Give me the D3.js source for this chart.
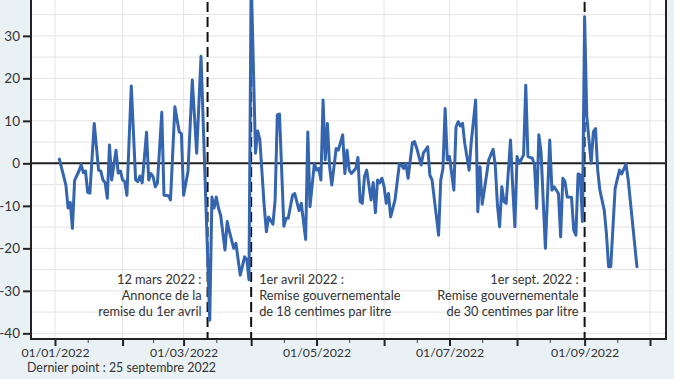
<!DOCTYPE html>
<html><head><meta charset="utf-8">
<script src="https://cdn.jsdelivr.net/npm/d3@7"></script>
<style>
html,body{margin:0;padding:0;background:#e9f1f5;}
svg{display:block;}
text{font-family:Lato,"Noto Sans",sans-serif;}
</style></head><body>
<svg id="c" width="674" height="379"></svg>
<script>
const dates = [
"2022-01-03","2022-01-06","2022-01-07","2022-01-08","2022-01-09","2022-01-10","2022-01-12","2022-01-13","2022-01-14","2022-01-15",
"2022-01-16","2022-01-17","2022-01-19","2022-01-21","2022-01-22","2022-01-23","2022-01-24","2022-01-25","2022-01-26","2022-01-27",
"2022-01-29","2022-01-30","2022-01-31","2022-02-01","2022-02-02","2022-02-03","2022-02-05","2022-02-07","2022-02-08","2022-02-09",
"2022-02-10","2022-02-12","2022-02-13","2022-02-14","2022-02-15","2022-02-16","2022-02-17","2022-02-19","2022-02-20","2022-02-22",
"2022-02-23","2022-02-25","2022-02-27","2022-02-28","2022-03-01","2022-03-03","2022-03-05","2022-03-07","2022-03-09","2022-03-13",
"2022-03-14","2022-03-15","2022-03-16","2022-03-17","2022-03-18","2022-03-20","2022-03-21","2022-03-22","2022-03-24","2022-03-25",
"2022-03-27","2022-03-29","2022-03-30","2022-03-31","2022-04-01","2022-04-03","2022-04-04","2022-04-05","2022-04-07","2022-04-08",
"2022-04-09","2022-04-11","2022-04-12","2022-04-13","2022-04-14","2022-04-16","2022-04-17","2022-04-18","2022-04-20","2022-04-21",
"2022-04-23","2022-04-24","2022-04-26","2022-04-27","2022-04-28","2022-04-30","2022-05-01","2022-05-02","2022-05-03","2022-05-04",
"2022-05-05","2022-05-06","2022-05-07","2022-05-08","2022-05-10","2022-05-11","2022-05-13","2022-05-14","2022-05-15","2022-05-16",
"2022-05-17","2022-05-19","2022-05-20","2022-05-21","2022-05-22","2022-05-23","2022-05-24","2022-05-26","2022-05-27","2022-05-28",
"2022-05-29","2022-05-30","2022-05-31","2022-06-01","2022-06-02","2022-06-03","2022-06-04","2022-06-06","2022-06-08","2022-06-09",
"2022-06-10","2022-06-11","2022-06-12","2022-06-14","2022-06-15","2022-06-16","2022-06-18","2022-06-19","2022-06-21","2022-06-22",
"2022-06-23","2022-06-26","2022-06-27","2022-06-28","2022-06-29","2022-06-30","2022-07-01","2022-07-03","2022-07-04","2022-07-05",
"2022-07-06","2022-07-07","2022-07-08","2022-07-10","2022-07-11","2022-07-13","2022-07-14","2022-07-15","2022-07-16","2022-07-17",
"2022-07-19","2022-07-21","2022-07-22","2022-07-23","2022-07-24","2022-07-25","2022-07-26","2022-07-27","2022-07-29","2022-07-30",
"2022-07-31","2022-08-01","2022-08-02","2022-08-04","2022-08-05","2022-08-06","2022-08-08","2022-08-09","2022-08-10","2022-08-11",
"2022-08-12","2022-08-14","2022-08-16","2022-08-17","2022-08-18","2022-08-20","2022-08-21","2022-08-22","2022-08-23","2022-08-24",
"2022-08-26","2022-08-27","2022-08-28","2022-08-29","2022-08-30","2022-08-31","2022-09-01","2022-09-02","2022-09-04","2022-09-05",
"2022-09-06","2022-09-07","2022-09-08","2022-09-10","2022-09-11","2022-09-12","2022-09-13","2022-09-15","2022-09-17","2022-09-18",
"2022-09-20","2022-09-21","2022-09-25"
];
const values = [
1.0,-5.1,-10.5,-9.2,-15.3,-4.0,-1.8,-0.3,-2.2,-1.8,
-6.8,-7.0,9.4,-1.6,-1.8,-3.9,-4.6,-8.2,4.3,-3.9,
3.1,-2.3,-1.8,-3.9,-4.3,-7.5,18.2,-3.9,-4.3,-3.0,
-4.6,7.3,-3.9,-2.4,-3.1,-5.5,-4.6,12.0,-7.5,-7.6,
-8.6,13.3,7.4,7.0,-7.5,-2.0,19.6,2.4,25.2,-36.9,
-7.9,-10.5,-7.9,-10.5,-12.2,-20.4,-13.7,-16.0,-20.0,-18.8,
-26.3,-22.0,-22.6,-27.4,44.0,2.4,7.6,5.5,-10.2,-16.1,
-12.6,-14.3,-8.6,11.4,11.6,-14.8,-12.9,-12.9,-7.5,-7.1,
-11.1,-9.4,-17.9,7.4,-10.2,0.0,-1.6,-1.2,-3.9,14.9,
0.8,9.4,-0.8,-5.1,3.5,3.1,6.7,-2.4,3.1,-1.6,
-2.4,-1.2,1.4,-9.0,-9.4,-3.1,-1.6,-8.6,-4.5,-11.6,
-3.9,-4.6,-3.5,-5.5,-9.4,-7.1,-12.6,-8.6,-0.2,-0.4,
-1.2,0.0,-3.5,4.9,5.1,3.5,-0.4,2.4,3.9,-2.8,
-3.9,-16.9,-3.9,-1.2,12.9,0.8,1.6,-6.3,8.6,9.8,
8.8,9.4,4.7,-1.6,5.1,14.9,-11.4,-0.8,-9.6,-6.3,
0.8,3.3,-0.4,-9.8,-14.9,-5.5,-9.0,-9.4,5.5,-5.5,
-14.9,1.6,0.0,2.0,18.4,1.6,1.2,-0.4,-10.6,6.7,
2.7,-20.0,5.5,-6.3,-5.5,-7.1,-17.3,-3.5,-4.3,-7.9,
-8.0,-15.7,-16.9,-2.5,-2.7,-13.7,34.5,11.0,0.0,7.4,
8.2,-1.6,-6.3,-11.0,-16.5,-24.3,-24.3,-5.9,-1.6,-2.5,
-0.2,-3.9,-24.3
];
const yTicks = [-40,-30,-20,-10,0,10,20,30];
const yGrid = [-40,-35,-30,-25,-20,-15,-10,-5,0,5,10,15,20,25,30,35,40];
const monthTicks = ["2022-01-01","2022-02-01","2022-03-01","2022-04-01","2022-05-01","2022-06-01","2022-07-01","2022-08-01","2022-09-01","2022-10-01"];
const midTicks = ["2022-01-16","2022-02-15","2022-03-16","2022-04-16","2022-05-16","2022-06-16","2022-07-16","2022-08-16","2022-09-16"];
const labelledMonths = ["2022-01-01","2022-03-01","2022-05-01","2022-07-01","2022-09-01"];
const eventDates = ["2022-03-12","2022-04-01","2022-09-01"];
const eventSides = ["end","start","end"];
const eventLines = [
  ["12 mars 2022 :","Annonce de la","remise du 1er avril"],
  ["1er avril 2022 :","Remise gouvernementale","de 18 centimes par litre"],
  ["1er sept. 2022 :","Remise gouvernementale","de 30 centimes par litre"]
];
const caption = "Dernier point : 25 septembre 2022";

const parse = d3.utcParse("%Y-%m-%d");
const fmt = d3.utcFormat("%d/%m/%Y");
const data = dates.map((d,i)=>({date:parse(d), value:values[i]}));

const svg = d3.select("#c");
const L = 31, R = 666, T = -13, B = 339;
const x = d3.scaleUtc().domain([parse("2022-01-01"), parse("2022-10-01")]).range([55, 650]);
const y = d3.scaleLinear().domain([-41.4, 41.4]).range([339.3, -12.6]);

svg.append("rect").attr("x",L).attr("y",T).attr("width",R-L).attr("height",B-T).attr("fill","#ffffff");

svg.append("defs").append("clipPath").attr("id","clip")
  .append("rect").attr("x",L).attr("y",T).attr("width",R-L).attr("height",B-T);

const grid = svg.append("g").attr("stroke","#e4e4e4").attr("stroke-width",1);
grid.selectAll("line.h").data(yGrid).join("line").attr("class","h")
  .attr("x1",L).attr("x2",R).attr("y1",d=>y(d)).attr("y2",d=>y(d));
grid.selectAll("line.v").data(monthTicks).join("line").attr("class","v")
  .attr("x1",d=>x(parse(d))).attr("x2",d=>x(parse(d))).attr("y1",T).attr("y2",B);

// zero line
svg.append("line").attr("x1",L).attr("x2",R).attr("y1",y(0)).attr("y2",y(0))
  .attr("stroke","#222").attr("stroke-width",2);

// event dashed lines
svg.append("g").selectAll("line").data(eventDates).join("line")
  .attr("x1",d=>x(parse(d))).attr("x2",d=>x(parse(d))).attr("y1",T).attr("y2",B)
  .attr("stroke","#111").attr("stroke-width",2).attr("stroke-dasharray","10,5");

// series line
const line = d3.line().x(d=>x(d.date)).y(d=>y(d.value));
svg.append("path").datum(data).attr("clip-path","url(#clip)")
  .attr("d",line).attr("fill","none").attr("stroke","#3565ae")
  .attr("stroke-width",3).attr("stroke-linejoin","round").attr("stroke-linecap","round");

// annotations
const ann = svg.append("g").attr("fill","#333").attr("font-size","12.8px");
eventDates.forEach((d,i)=>{
  const xx = x(parse(d)) + (eventSides[i]==="end" ? -6 : 8);
  const t = ann.append("text").attr("text-anchor",eventSides[i]);
  eventLines[i].forEach((s,j)=>{
    t.append("tspan").attr("x",xx).attr("y",284+j*16).text(s);
  });
});

// left axis
const ya = svg.append("g").attr("transform",`translate(${L},0)`)
  .call(d3.axisLeft(y).tickValues(yTicks).tickSize(8).tickPadding(3).tickFormat(d=>String(d)));
ya.select(".domain").remove();
ya.selectAll(".tick line").attr("stroke","#222").attr("stroke-width",2);
ya.selectAll(".tick text").attr("fill","#333").attr("font-size","13.5px").attr("font-family","Lato,'Noto Sans',sans-serif");

// bottom axis
const xa = svg.append("g").attr("transform",`translate(0,${B})`)
  .call(d3.axisBottom(x).tickValues(monthTicks.map(parse)).tickSize(7).tickPadding(2)
    .tickFormat(d=>labelledMonths.includes(d3.utcFormat("%Y-%m-%d")(d)) ? fmt(d) : ""));
xa.select(".domain").remove();
xa.selectAll(".tick line").attr("stroke","#222").attr("stroke-width",2);
xa.selectAll(".tick text").attr("fill","#333").attr("font-size","12.3px").attr("font-family","Lato,'Noto Sans',sans-serif");
const xm = svg.append("g").attr("transform",`translate(0,${B})`)
  .call(d3.axisBottom(x).tickValues(midTicks.map(parse)).tickSize(4).tickFormat(""));
xm.select(".domain").remove();
xm.selectAll(".tick line").attr("stroke","#444").attr("stroke-width",1);

// frame lines
svg.append("line").attr("x1",L).attr("x2",L).attr("y1",T).attr("y2",B+1).attr("stroke","#222").attr("stroke-width",2);
svg.append("line").attr("x1",R).attr("x2",R).attr("y1",T).attr("y2",B+1).attr("stroke","#222").attr("stroke-width",2);
svg.append("line").attr("x1",L-1).attr("x2",R+1).attr("y1",B).attr("y2",B).attr("stroke","#222").attr("stroke-width",2);

svg.append("text").attr("x",27).attr("y",372).attr("fill","#333").attr("font-size","12.4px").text(caption);
</script>
</body></html>
